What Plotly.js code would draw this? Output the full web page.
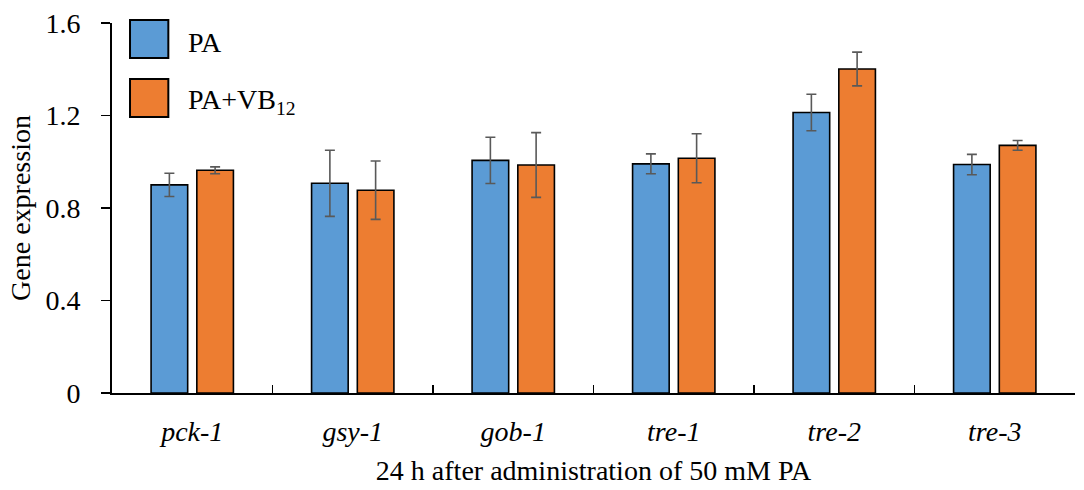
<!DOCTYPE html>
<html>
<head>
<meta charset="utf-8">
<script src="https://cdn.plot.ly/plotly-3.0.1.min.js"></script>
<style>
  html, body { margin: 0; padding: 0; background: #ffffff; }
  #chart { width: 1084px; height: 490px; }
</style>
</head>
<body>
<div id="chart"></div>
<script>
// Genes measured 24 h after 50 mM PA
const genes = ['pck-1', 'gsy-1', 'gob-1', 'tre-1', 'tre-2', 'tre-3'];
const geneLabels = genes.map(g => '<i>' + g + '</i>');

// Relative expression (mean) and error (SD)
const paMean   = [0.90, 0.907, 1.006, 0.991, 1.213, 0.988];
const paErr    = [0.050, 0.143, 0.100, 0.043, 0.079, 0.044];
const vb12Mean = [0.963, 0.877, 0.986, 1.015, 1.401, 1.071];
const vb12Err  = [0.015, 0.126, 0.140, 0.106, 0.073, 0.021];

const seriesNames = ['PA', 'PA+VB<sub>12</sub>'];
const seriesColors = ['#5B9BD5', '#ED7D31'];

const yTicks = [0, 0.4, 0.8, 1.2, 1.6];
const yTickText = ['0', '0.4', '0.8', '1.2', '1.6'];

const serif = 'Liberation Serif, Times New Roman, serif';

function barTrace(name, y, err, color) {
  return {
    type: 'bar',
    name: name,
    x: geneLabels,
    y: y,
    marker: { color: color, line: { color: '#000000', width: 1.6 } },
    error_y: { type: 'data', array: err, visible: true, color: '#595959', thickness: 1.6, width: 5 },
    hoverinfo: 'skip'
  };
}

const data = [
  barTrace(seriesNames[0], paMean, paErr, seriesColors[0]),
  barTrace(seriesNames[1], vb12Mean, vb12Err, seriesColors[1])
];

// Legend drawn as large outlined swatches with labels
const legendShapes = seriesColors.map((c, i) => ({
  type: 'rect', xref: 'paper', yref: 'paper',
  x0: 0.0187, x1: 0.0585,
  y0: 1 - i * 0.1595 - 0.0946, y1: 1 - i * 0.1595 + 0.0081,
  fillcolor: c, line: { color: '#000000', width: 2 }
}));
const legendText = seriesNames.map((n, i) => ({
  xref: 'paper', yref: 'paper', x: 0.077, y: 0.946 - i * 0.1595,
  xanchor: 'left', yanchor: 'middle', text: n, showarrow: false,
  font: { size: 28 }
}));

const layout = {
  width: 1084, height: 490,
  margin: { l: 112, r: 9, t: 23, b: 97 },
  paper_bgcolor: '#ffffff', plot_bgcolor: '#ffffff',
  showlegend: false,
  barmode: 'group',
  bargap: 0.43,
  bargroupgap: 0.2,
  font: { family: serif, size: 28, color: '#000000' },
  xaxis: {
    type: 'category',
    showline: true, linecolor: '#000000', linewidth: 2,
    ticks: 'inside', tickson: 'boundaries', ticklen: 8, tickwidth: 1.5, tickcolor: '#000000',
    ticklabelstandoff: 12,
    tickfont: { size: 28 },
    showgrid: false, zeroline: false,
    automargin: false,
    title: { text: '24 h after administration of 50 mM PA', font: { size: 28 }, standoff: 15 }
  },
  yaxis: {
    range: [0, 1.6],
    tickvals: yTicks, ticktext: yTickText,
    showline: true, linecolor: '#000000', linewidth: 2,
    ticks: 'outside', ticklen: 9, tickwidth: 1.5, tickcolor: '#000000',
    ticklabelstandoff: 15,
    tickfont: { size: 28 },
    showgrid: false, zeroline: false,
    automargin: false,
    title: { text: 'Gene expression', font: { size: 28 }, standoff: 7 }
  },
  shapes: legendShapes,
  annotations: legendText
};

Plotly.newPlot('chart', data, layout, { staticPlot: true, displayModeBar: false });
</script>
</body>
</html>
